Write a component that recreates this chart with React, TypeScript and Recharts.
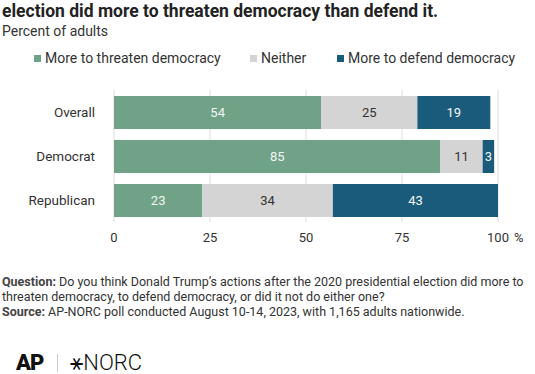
import { Bar, BarChart, CartesianGrid, LabelList, XAxis, YAxis } from "recharts";

const GROUPS = ["Overall", "Democrat", "Republican"];
const THREATEN = [54, 85, 23];
const NEITHER = [25, 11, 34];
const DEFEND = [19, 3, 43];
const TICKS = [0, 25, 50, 75, 100];

const SERIES = [
  { key: "threaten", name: "More to threaten democracy", color: "#6FA287", text: "#F2F6F3" },
  { key: "neither", name: "Neither", color: "#D4D4D4", text: "#333333" },
  { key: "defend", name: "More to defend democracy", color: "#1A5B7B", text: "#F2F6F3" },
];

const FONT = "Roboto, 'Noto Sans', sans-serif";

export default function App() {
  const data = GROUPS.map((g, i) => ({
    group: g,
    threaten: THREATEN[i],
    neither: NEITHER[i],
    defend: DEFEND[i],
  }));

  return (
    <div
      style={{
        position: "absolute",
        left: 0,
        top: 0,
        width: 535,
        height: 374,
        overflow: "hidden",
        background: "#fff",
        fontFamily: FONT,
        color: "#222",
      }}
    >
      <div style={{ position: "absolute", left: 2, top: 1, fontSize: 17.5, fontWeight: 700, color: "#222", whiteSpace: "nowrap" }}>
        election did more to threaten democracy than defend it.
      </div>
      <div style={{ position: "absolute", left: 2, top: 23, fontSize: 14, color: "#333" }}>Percent of adults</div>

      {/* legend */}
      <div style={{ position: "absolute", left: 0, top: 50, width: 535, height: 18, fontSize: 14, color: "#333" }}>
        {SERIES.map((s, i) => (
          <div
            key={s.key}
            style={{ position: "absolute", left: [34, 250, 337][i], top: 0, display: "flex", alignItems: "center", whiteSpace: "nowrap" }}
          >
            <span style={{ width: 7, height: 7, background: s.color, marginRight: 4, display: "inline-block" }} />
            {s.name}
          </div>
        ))}
      </div>

      <div style={{ position: "absolute", left: 0, top: 80 }}>
        <BarChart
          width={535}
          height={172}
          data={data}
          layout="vertical"
          margin={{ top: 10, right: 37, left: 0, bottom: 0 }}
        >
          <CartesianGrid horizontal={false} stroke="#DDDDDD" />
          <XAxis
            type="number"
            domain={[0, 100]}
            ticks={TICKS}
            axisLine={false}
            tickLine={false}
            tickMargin={5}
            height={30}
            tick={{ fontSize: 13, fill: "#333", fontFamily: FONT }}
          />
          <YAxis
            type="category"
            dataKey="group"
            width={114}
            axisLine={false}
            tickLine={false}
            tickMargin={13}
            tick={{ fontSize: 13.5, fill: "#333", fontFamily: FONT }}
          />
          {SERIES.map((s) => (
            <Bar key={s.key} dataKey={s.key} stackId="a" fill={s.color} barSize={33} isAnimationActive={false}>
              <LabelList dataKey={s.key} position="center" fill={s.text} fontSize={13} fontFamily={FONT} />
            </Bar>
          ))}
        </BarChart>
      </div>
      <div style={{ position: "absolute", left: 514, top: 230, fontSize: 13, color: "#333" }}>%</div>

      <div style={{ position: "absolute", left: 2, top: 274, width: 533, fontSize: 12.5, lineHeight: "15px", color: "#333" }}>
        <div>
          <b style={{ color: "#444" }}>Question:</b> Do you think Donald Trump’s actions after the 2020 presidential election did more to
        </div>
        <div>threaten democracy, to defend democracy, or did it not do either one?</div>
        <div>
          <b style={{ color: "#444" }}>Source:</b> AP-NORC poll conducted August 10-14, 2023, with 1,165 adults nationwide.
        </div>
      </div>

      <div style={{ position: "absolute", left: 16, top: 352, height: 22, display: "flex", alignItems: "center", whiteSpace: "nowrap", lineHeight: "22px" }}>
        <span style={{ fontSize: 22, fontWeight: 900, color: "#111", letterSpacing: -1 }}>AP</span>
        <span style={{ width: 1, height: 18, background: "#ccc", margin: "0 12px 0 14px" }} />
        <span style={{ fontSize: 22, fontWeight: 300, color: "#111" }}>⚹NORC</span>
      </div>
    </div>
  );
}
